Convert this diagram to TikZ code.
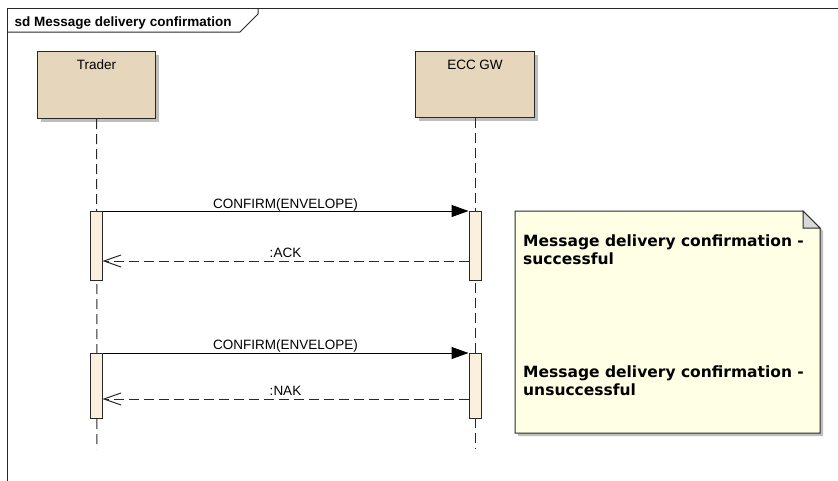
\documentclass[tikz,border=0pt]{standalone}
\usepackage{fontspec}
\setmainfont{Liberation Sans}
\newfontfamily\notefont{DejaVu Sans}
\usetikzlibrary{arrows.meta}
\definecolor{lifebox}{RGB}{230,214,188}
\definecolor{actfill}{RGB}{251,240,222}
\definecolor{notefill}{RGB}{255,255,230}
\definecolor{shadowc}{RGB}{190,190,190}
\definecolor{linec}{RGB}{40,40,40}
\tikzset{
  lbox/.style={draw=linec, fill=lifebox, line width=1pt},
  lshadow/.style={fill=shadowc, draw=none},
  lifeline/.style={draw=linec, line width=1pt, dash pattern=on 10pt off 5pt},
  actbar/.style={draw=linec, fill=actfill, line width=1pt},
  callmsg/.style={draw=black, line width=1pt, -{Triangle[length=17pt,width=12pt]}},
  replymsg/.style={draw=linec, line width=1pt, dash pattern=on 10pt off 5pt, -{Straight Barb[length=17pt,width=12pt,line width=1pt]}},
  msglabel/.style={font=\fontsize{13.5}{15}\selectfont, text=black, inner sep=0pt, anchor=base},
  boxlabel/.style={font=\fontsize{13.5}{15}\selectfont, text=black, inner sep=0pt, anchor=base},
  notetext/.style={font=\notefont\bfseries\fontsize{15.5}{17.5}\selectfont, align=left, anchor=north west, inner sep=0pt}
}
\begin{document}
\begin{tikzpicture}[x=1pt,y=-1pt]
\useasboundingbox (0,0) rectangle (838,480);
\clip (0,0) rectangle (838,480);
\fill[white] (0,0) rectangle (838,480);
% frame
\draw[linec, line width=1pt] (7,8) rectangle (850,490);
\draw[linec, line width=1pt] (7,32) -- (240,32) -- (258,14) -- (258,8);
\node[anchor=base west, font=\bfseries\fontsize{13.5}{15}\selectfont, inner sep=0pt] (title) at (14.5,26.5) {sd Message delivery confirmation};
% lifelines
\fill[lshadow] (41,55) rectangle (159,122);
\fill[lshadow] (419,55) rectangle (538,121);
\coordinate (tlb) at (97,449);
\coordinate (elb) at (475,449);
\node[lbox, minimum width=118pt, minimum height=67pt, anchor=north west] (trader) at (37,51) {};
\node[lbox, minimum width=119pt, minimum height=66pt, anchor=north west] (ecc) at (415,51) {};
\node[boxlabel] at (trader.center |- 0,69.5) {Trader};
\node[boxlabel] at (ecc.center |- 0,69) {ECC GW};
\draw[lifeline] (trader.south) -- (tlb);
\draw[lifeline] (ecc.south) -- (elb);
% activations
\node[actbar, minimum width=12pt, minimum height=69pt, anchor=north] (ta1) at (96,211) {};
\node[actbar, minimum width=12pt, minimum height=69pt, anchor=north] (ea1) at (475,211) {};
\node[actbar, minimum width=12pt, minimum height=65pt, anchor=north] (ta2) at (96,353) {};
\node[actbar, minimum width=12pt, minimum height=65pt, anchor=north] (ea2) at (475,353) {};
% messages
\draw[callmsg] (ta1.north east) -- node[msglabel, yshift=3pt] {CONFIRM(ENVELOPE)} (ea1.north west);
\draw[replymsg] (ea1.west |- 0,261) -- node[msglabel, yshift=4pt] {:ACK} (ta1.east |- 0,261);
\draw[callmsg] (ta2.north east) -- node[msglabel, yshift=4pt] {CONFIRM(ENVELOPE)} (ea2.north west);
\draw[replymsg] (ea2.west |- 0,399) -- node[msglabel, yshift=4pt] {:NAK} (ta2.east |- 0,399);
% note
\fill[shadowc] (518,214) -- (806,214) -- (823,231) -- (823,436) -- (518,436) -- cycle;
\draw[linec, line width=1pt, fill=notefill] (515,211) -- (803,211) -- (820,228) -- (820,433) -- (515,433) -- cycle;
\draw[linec, line width=1pt, fill=shadowc!60] (803,211) -- (803,228) -- (820,228) -- cycle;
\node[notetext] (n1) at (523,235) {Message delivery confirmation -\\successful};
\node[notetext] (n2) at (523,366) {Message delivery confirmation -\\unsuccessful};
\end{tikzpicture}
\end{document}
